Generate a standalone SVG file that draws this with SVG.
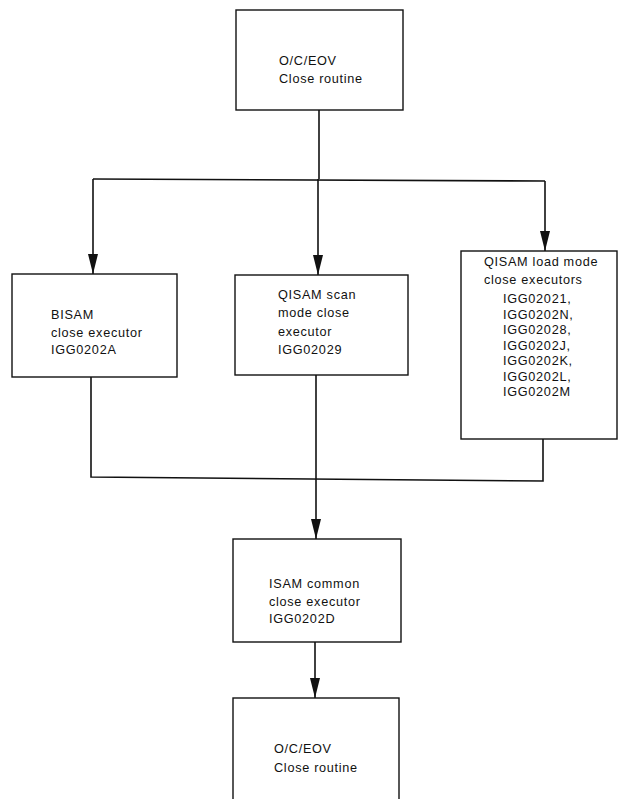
<svg xmlns="http://www.w3.org/2000/svg" width="618" height="799" viewBox="0 0 618 799">
  <defs>
    <style>
      .box { fill: #ffffff; stroke: #111111; stroke-width: 1.4; }
      .wire { fill: none; stroke: #111111; stroke-width: 1.6; }
      .lbl { font-family: "Liberation Sans", Arial, sans-serif; font-size: 12.7px; letter-spacing: 0.7px; fill: #111111; }
    </style>
    <!-- narrow filled arrowhead, tip at the end of the line -->
    <marker id="arrowDown" markerUnits="userSpaceOnUse" markerWidth="10" markerHeight="20" viewBox="0 0 10 20" refX="5" refY="20" orient="0">
      <path d="M0,0 L10,0 L5,20 Z" fill="#111111"/>
    </marker>
  </defs>

  <rect width="618" height="799" fill="#ffffff"/>

  <!-- connectors -->
  <g id="connectors">
    <!-- fan-out from the opening routine -->
    <path class="wire" d="M319,110 V179"/>
    <path class="wire" d="M93,179 L545,181"/>
    <path class="wire" d="M93,179 V274" marker-end="url(#arrowDown)"/>
    <path class="wire" d="M318,179 V275" marker-end="url(#arrowDown)"/>
    <path class="wire" d="M545,181 V251" marker-end="url(#arrowDown)"/>
    <!-- fan-in to the common executor -->
    <path class="wire" d="M91,377 V477 L543,481 V439"/>
    <path class="wire" d="M316,375 V539" marker-end="url(#arrowDown)"/>
    <!-- to the closing routine -->
    <path class="wire" d="M315,642 V698" stroke-width="2" marker-end="url(#arrowDown)"/>
  </g>

  <g id="oce-open">
    <rect class="box" x="236" y="10" width="167" height="100"/>
    <text class="lbl" x="279" y="65">O/C/EOV</text>
    <text class="lbl" x="279" y="83">Close routine</text>
  </g>

  <g id="bisam">
    <rect class="box" x="12" y="274" width="165" height="103"/>
    <text class="lbl" x="51" y="319">BISAM</text>
    <text class="lbl" x="51" y="337">close executor</text>
    <text class="lbl" x="51" y="354">IGG0202A</text>
  </g>

  <g id="qisam-scan">
    <rect class="box" x="235" y="275" width="173" height="100"/>
    <text class="lbl" x="278" y="299">QISAM scan</text>
    <text class="lbl" x="278" y="317">mode close</text>
    <text class="lbl" x="278" y="336">executor</text>
    <text class="lbl" x="278" y="354">IGG02029</text>
  </g>

  <g id="qisam-load">
    <rect class="box" x="461" y="251" width="156" height="188"/>
    <text class="lbl" x="484" y="266">QISAM load mode</text>
    <text class="lbl" x="484" y="284">close executors</text>
    <text class="lbl" x="503" y="303">IGG02021,</text>
    <text class="lbl" x="503" y="318.5">IGG0202N,</text>
    <text class="lbl" x="503" y="334">IGG02028,</text>
    <text class="lbl" x="503" y="349.5">IGG0202J,</text>
    <text class="lbl" x="503" y="365">IGG0202K,</text>
    <text class="lbl" x="503" y="380.5">IGG0202L,</text>
    <text class="lbl" x="503" y="396">IGG0202M</text>
  </g>

  <g id="isam-common">
    <rect class="box" x="233" y="539" width="168" height="103"/>
    <text class="lbl" x="269" y="588">ISAM common</text>
    <text class="lbl" x="269" y="606">close executor</text>
    <text class="lbl" x="269" y="623">IGG0202D</text>
  </g>

  <g id="oce-close">
    <rect class="box" x="233" y="698" width="166" height="120"/>
    <text class="lbl" x="274" y="753">O/C/EOV</text>
    <text class="lbl" x="274" y="772">Close routine</text>
  </g>
</svg>
